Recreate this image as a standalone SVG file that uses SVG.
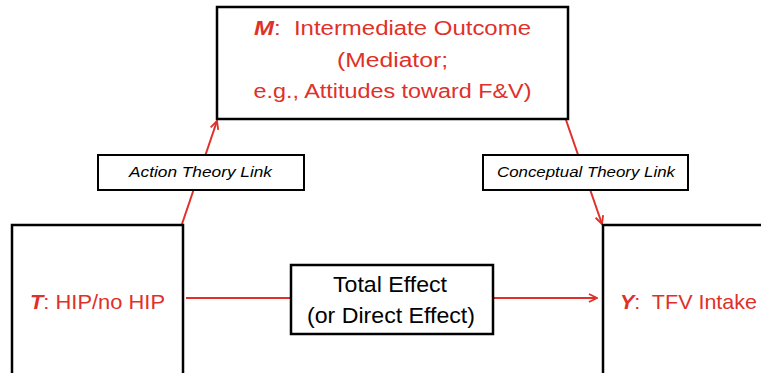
<svg xmlns="http://www.w3.org/2000/svg" width="761" height="373" viewBox="0 0 761 373">
<style>
.box{fill:#fff;stroke:#000;stroke-width:2.5}
.lbl{fill:#fff;stroke:#000;stroke-width:2}
.red{fill:#E0302A;font-family:"Liberation Sans",Arial,sans-serif;white-space:pre}
.blk{fill:#000;font-family:"Liberation Sans",Arial,sans-serif}
.it{font-style:italic}
.bi{font-weight:bold;font-style:italic}
.con{stroke:#E0302A;stroke-width:2;fill:none}
</style>
<defs>
<marker id="ah" viewBox="0 0 10 10" refX="9" refY="5" markerWidth="10" markerHeight="10" markerUnits="userSpaceOnUse" orient="auto">
<path d="M1,1 L9,5 L1,9" fill="none" stroke="#E0302A" stroke-width="1.8"/>
</marker>
</defs>
<rect width="761" height="373" fill="#fff"/>
<g id="connectors">
<line class="con" x1="182" y1="224" x2="217" y2="121" marker-end="url(#ah)"/>
<line class="con" x1="566" y1="120" x2="602" y2="224" marker-end="url(#ah)"/>
<line class="con" x1="186" y1="298" x2="291" y2="298"/>
<line class="con" x1="493" y1="298" x2="597" y2="298" marker-end="url(#ah)"/>
</g>
<g id="M">
<rect class="box" x="217" y="7" width="351" height="112"/>
<text class="red" font-size="19.5" x="392.5" y="35" text-anchor="middle" textLength="277" lengthAdjust="spacingAndGlyphs"><tspan class="bi">M</tspan>:  Intermediate Outcome</text>
<text class="red" font-size="19.5" x="392.5" y="67" text-anchor="middle" textLength="111" lengthAdjust="spacingAndGlyphs">(Mediator;</text>
<text class="red" font-size="19.5" x="392.5" y="98" text-anchor="middle" textLength="278" lengthAdjust="spacingAndGlyphs">e.g., Attitudes toward F&amp;V)</text>
</g>
<g id="T">
<rect class="box" x="12" y="225" width="171" height="160"/>
<text class="red" font-size="21" x="30" y="309" textLength="135" lengthAdjust="spacingAndGlyphs"><tspan class="bi">T</tspan>: HIP/no HIP</text>
</g>
<g id="Y">
<rect class="box" x="603" y="225" width="170" height="160"/>
<text class="red" font-size="21" x="620" y="309" textLength="137" lengthAdjust="spacingAndGlyphs"><tspan class="bi">Y</tspan>:  TFV Intake</text>
</g>
<g id="action">
<rect class="lbl" x="98" y="155" width="206" height="35"/>
<text class="blk it" font-size="14.5" x="129" y="177" textLength="143" lengthAdjust="spacingAndGlyphs">Action Theory Link</text>
</g>
<g id="conceptual">
<rect class="lbl" x="483" y="155" width="205" height="35"/>
<text class="blk it" font-size="14.5" x="497" y="177" textLength="178" lengthAdjust="spacingAndGlyphs">Conceptual Theory Link</text>
</g>
<g id="total">
<rect class="box" x="291" y="265" width="202" height="69"/>
<text class="blk" font-size="21.5" x="390" y="292" text-anchor="middle" textLength="114" lengthAdjust="spacingAndGlyphs">Total Effect</text>
<text class="blk" font-size="21.5" x="391" y="323" text-anchor="middle" textLength="168" lengthAdjust="spacingAndGlyphs">(or Direct Effect)</text>
</g>
</svg>
